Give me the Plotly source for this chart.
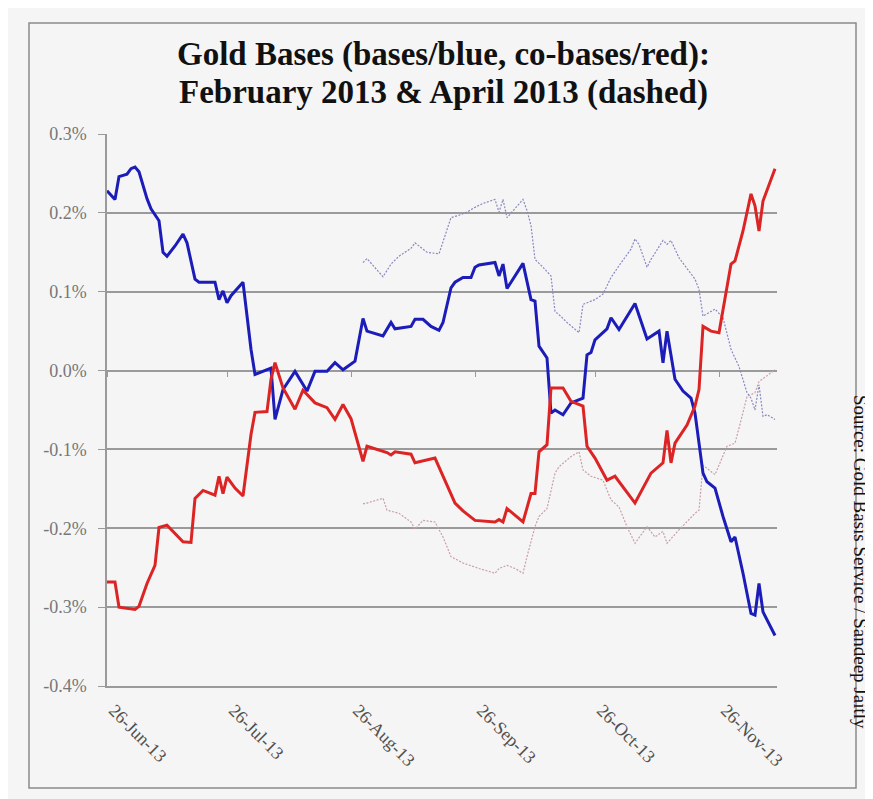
import plotly.graph_objects as go

# ---------------- data ----------------
blue_dates = ["2013-06-26","2013-06-28","2013-06-29","2013-07-01","2013-07-02","2013-07-03","2013-07-04","2013-07-06","2013-07-07","2013-07-09",
              "2013-07-10","2013-07-11","2013-07-13","2013-07-15","2013-07-16","2013-07-18","2013-07-19","2013-07-23","2013-07-24","2013-07-25",
              "2013-07-26","2013-07-27","2013-07-30","2013-08-01","2013-08-02","2013-08-06","2013-08-07","2013-08-09","2013-08-12","2013-08-15",
              "2013-08-17","2013-08-20","2013-08-22","2013-08-24","2013-08-27","2013-08-29","2013-08-30","2013-09-03","2013-09-05","2013-09-06",
              "2013-09-10","2013-09-11","2013-09-13","2013-09-15","2013-09-17","2013-09-18","2013-09-20","2013-09-21","2013-09-23","2013-09-25",
              "2013-09-26","2013-09-27","2013-10-01","2013-10-02","2013-10-03","2013-10-04","2013-10-08","2013-10-10","2013-10-11","2013-10-12",
              "2013-10-14","2013-10-15","2013-10-16","2013-10-18","2013-10-20","2013-10-23","2013-10-24","2013-10-25","2013-10-26","2013-10-29",
              "2013-10-30","2013-11-01","2013-11-05","2013-11-08","2013-11-11","2013-11-12","2013-11-13","2013-11-14","2013-11-15","2013-11-17",
              "2013-11-19","2013-11-20","2013-11-22","2013-11-23","2013-11-25","2013-11-27","2013-11-29","2013-11-30","2013-12-02","2013-12-04",
              "2013-12-05","2013-12-06","2013-12-07","2013-12-10"]
blue_vals = [0.228,0.217,0.246,0.249,0.256,0.258,0.252,0.218,0.205,0.190,
             0.150,0.145,0.158,0.173,0.162,0.116,0.112,0.112,0.090,0.101,
             0.086,0.095,0.112,0.027,-0.005,0.003,-0.062,-0.024,-0.001,-0.026,
             -0.001,-0.001,0.010,0.001,0.012,0.066,0.050,0.044,0.061,0.053,
             0.056,0.065,0.065,0.056,0.051,0.061,0.105,0.112,0.118,0.118,
             0.131,0.134,0.137,0.120,0.135,0.104,0.136,0.090,0.088,0.031,
             0.016,-0.054,-0.050,-0.056,-0.041,-0.035,0.020,0.023,0.039,0.053,
             0.067,0.052,0.085,0.040,0.050,0.010,0.050,0.018,-0.011,-0.026,
             -0.035,-0.054,-0.130,-0.141,-0.149,-0.185,-0.217,-0.211,-0.257,-0.308,
             -0.310,-0.270,-0.306,-0.336]

red_dates = ["2013-06-26","2013-06-28","2013-06-29","2013-07-03","2013-07-04","2013-07-06","2013-07-08","2013-07-09","2013-07-11","2013-07-13",
             "2013-07-15","2013-07-17","2013-07-18","2013-07-20","2013-07-23","2013-07-24","2013-07-25","2013-07-26","2013-07-28","2013-07-30",
             "2013-08-01","2013-08-02","2013-08-05","2013-08-06","2013-08-07","2013-08-09","2013-08-12","2013-08-14","2013-08-17","2013-08-20",
             "2013-08-22","2013-08-24","2013-08-26","2013-08-29","2013-08-30","2013-09-04","2013-09-05","2013-09-06","2013-09-10","2013-09-11",
             "2013-09-16","2013-09-21","2013-09-23","2013-09-26","2013-10-01","2013-10-02","2013-10-03","2013-10-04","2013-10-08","2013-10-10",
             "2013-10-11","2013-10-12","2013-10-14","2013-10-15","2013-10-18","2013-10-20","2013-10-23","2013-10-24","2013-10-26","2013-10-29",
             "2013-10-31","2013-11-05","2013-11-09","2013-11-12","2013-11-13","2013-11-14","2013-11-15","2013-11-18","2013-11-20","2013-11-21",
             "2013-11-22","2013-11-24","2013-11-26","2013-11-29","2013-11-30","2013-12-02","2013-12-04","2013-12-05","2013-12-06","2013-12-07",
             "2013-12-09","2013-12-10"]
red_vals = [-0.268,-0.268,-0.300,-0.303,-0.299,-0.270,-0.247,-0.199,-0.196,-0.206,
            -0.217,-0.218,-0.162,-0.152,-0.158,-0.134,-0.156,-0.135,-0.149,-0.159,
            -0.081,-0.053,-0.052,-0.011,0.010,-0.022,-0.049,-0.025,-0.041,-0.047,
            -0.062,-0.043,-0.061,-0.115,-0.096,-0.104,-0.107,-0.103,-0.106,-0.117,
            -0.111,-0.168,-0.178,-0.190,-0.192,-0.189,-0.192,-0.175,-0.192,-0.156,
            -0.156,-0.103,-0.094,-0.022,-0.022,-0.039,-0.045,-0.096,-0.111,-0.139,
            -0.134,-0.168,-0.130,-0.117,-0.076,-0.117,-0.092,-0.069,-0.045,-0.024,
            0.056,0.050,0.048,0.135,0.139,0.177,0.224,0.209,0.177,0.215,
            0.243,0.256]

blue_dash_dates = ["2013-08-29","2013-08-30","2013-09-03","2013-09-05","2013-09-07","2013-09-10","2013-09-11","2013-09-14","2013-09-17","2013-09-20",
                   "2013-09-22","2013-09-24","2013-09-26","2013-09-28","2013-10-01","2013-10-02","2013-10-03","2013-10-04","2013-10-08","2013-10-09",
                   "2013-10-10","2013-10-11","2013-10-13","2013-10-15","2013-10-16","2013-10-17","2013-10-19","2013-10-22","2013-10-23","2013-10-26",
                   "2013-10-28","2013-10-30","2013-11-01","2013-11-04","2013-11-05","2013-11-06","2013-11-08","2013-11-09","2013-11-12","2013-11-13",
                   "2013-11-14","2013-11-16","2013-11-20","2013-11-21","2013-11-22","2013-11-25","2013-11-27","2013-11-29","2013-12-01","2013-12-03",
                   "2013-12-04","2013-12-05","2013-12-06","2013-12-07","2013-12-08","2013-12-10"]
blue_dash_vals = [0.137,0.142,0.119,0.135,0.145,0.155,0.162,0.150,0.148,0.194,
                  0.197,0.201,0.207,0.212,0.217,0.201,0.217,0.194,0.217,0.203,
                  0.184,0.141,0.131,0.120,0.075,0.071,0.061,0.048,0.084,0.090,
                  0.097,0.118,0.133,0.154,0.167,0.160,0.131,0.141,0.165,0.160,
                  0.165,0.143,0.116,0.103,0.069,0.078,0.067,0.027,0.005,-0.028,
                  -0.035,-0.050,-0.018,-0.058,-0.056,-0.062]

red_dash_dates = ["2013-08-29","2013-08-30","2013-09-03","2013-09-04","2013-09-07","2013-09-10","2013-09-11","2013-09-13","2013-09-16","2013-09-18",
                  "2013-09-20","2013-09-23","2013-09-27","2013-10-01","2013-10-02","2013-10-04","2013-10-06","2013-10-08","2013-10-09","2013-10-11",
                  "2013-10-12","2013-10-14","2013-10-16","2013-10-17","2013-10-20","2013-10-22","2013-10-23","2013-10-25","2013-10-28","2013-10-30",
                  "2013-11-01","2013-11-03","2013-11-05","2013-11-08","2013-11-10","2013-11-12","2013-11-13","2013-11-16","2013-11-20","2013-11-21",
                  "2013-11-22","2013-11-25","2013-11-28","2013-11-30","2013-12-01","2013-12-03","2013-12-05","2013-12-06","2013-12-10"]
red_dash_vals = [-0.169,-0.168,-0.162,-0.177,-0.181,-0.192,-0.201,-0.190,-0.192,-0.211,
                 -0.236,-0.244,-0.251,-0.257,-0.251,-0.247,-0.251,-0.257,-0.236,-0.198,
                 -0.185,-0.175,-0.130,-0.122,-0.109,-0.103,-0.126,-0.134,-0.139,-0.164,
                 -0.173,-0.198,-0.219,-0.198,-0.211,-0.204,-0.219,-0.202,-0.181,-0.177,
                 -0.120,-0.132,-0.096,-0.092,-0.073,-0.033,-0.028,-0.014,0.001]

x_tick_dates = ["2013-06-26","2013-07-26","2013-08-26","2013-09-26","2013-10-26","2013-11-26"]
x_tick_labels = ["26-Jun-13","26-Jul-13","26-Aug-13","26-Sep-13","26-Oct-13","26-Nov-13"]
y_tick_vals = [-0.4,-0.3,-0.2,-0.1,0.0,0.1,0.2,0.3]
y_tick_labels = ["-0.4%","-0.3%","-0.2%","-0.1%","0.0%","0.1%","0.2%","0.3%"]

title_line1 = "Gold Bases (bases/blue, co-bases/red):"
title_line2 = "February 2013 & April 2013 (dashed)"
source_text = "Source: Gold Basis Service / Sandeep Jaitly"

# ---------------- figure ----------------
OFF = 8                       # page body margin
W, H = 873 - OFF, 799 - OFF
L, R, T, B = 107 - OFF, 96, 134 - OFF, 113
PW, PH = W - L - R, H - T - B

def px(xs):                   # screen x -> paper x
    return (xs - OFF - L) / PW

def py(ys):                   # screen y -> paper y
    return (H - B - (ys - OFF)) / PH

SERIF = "Liberation Serif"
GRID = "#9a9a9a"
BG = "#f5f5f5"

fig = go.Figure()
fig.add_trace(go.Scatter(x=blue_dash_dates, y=blue_dash_vals, mode="lines",
                         line=dict(color="#8888c2", width=1.2, dash="2px,1.5px"), showlegend=False, hoverinfo="skip"))
fig.add_trace(go.Scatter(x=red_dash_dates, y=red_dash_vals, mode="lines",
                         line=dict(color="#c89ea8", width=1.2, dash="2px,1.5px"), showlegend=False, hoverinfo="skip"))
fig.add_trace(go.Scatter(x=blue_dates, y=blue_vals, mode="lines",
                         line=dict(color="#1c1cb8", width=3), showlegend=False, hoverinfo="skip"))
fig.add_trace(go.Scatter(x=red_dates, y=red_vals, mode="lines",
                         line=dict(color="#dc2424", width=3), showlegend=False, hoverinfo="skip"))
# empty trace carrying the secondary axis used for the month tick marks at 0%
fig.add_trace(go.Scatter(x=[], y=[], xaxis="x2", showlegend=False, hoverinfo="skip"))

x_range = ["2013-06-26", "2013-12-10 12:00"]

fig.update_layout(
    width=W, height=H, autosize=False,
    margin=dict(l=L, r=R, t=T, b=B, pad=0),
    paper_bgcolor=BG, plot_bgcolor=BG,
    showlegend=False,
    xaxis=dict(type="date", range=x_range, tickvals=x_tick_dates, ticktext=x_tick_labels,
               tickangle=45, showgrid=False, zeroline=False, showline=True, linecolor=GRID, linewidth=1.5,
               ticks="", tickfont=dict(family=SERIF, size=18, color="#505050"),
               ticklabelstandoff=5, ticklabelshift=7),
    xaxis2=dict(type="date", range=x_range, overlaying="x", anchor="free", position=py(371), side="bottom",
                tickvals=x_tick_dates, ticks="outside", ticklen=5, tickcolor=GRID, tickwidth=1,
                showticklabels=False, showgrid=False, zeroline=False, showline=False),
    yaxis=dict(range=[-0.4, 0.3], tickvals=y_tick_vals, ticktext=y_tick_labels,
               showgrid=True, gridcolor=GRID, gridwidth=1.5, zeroline=False,
               showline=True, linecolor=GRID, linewidth=1.5, ticks="outside", ticklen=7, tickcolor=GRID,
               tickfont=dict(family=SERIF, size=18, color="#777777"), ticklabelstandoff=8),
    shapes=[dict(type="rect", xref="paper", yref="paper", x0=px(29), x1=px(856), y0=py(788), y1=py(23),
                 line=dict(color="#8a8a8a", width=1.5), fillcolor="rgba(0,0,0,0)", layer="below")],
    annotations=[
        dict(text=title_line1, xref="paper", yref="paper", x=px(443), y=py(54), xanchor="center", yanchor="middle",
             showarrow=False, font=dict(family=SERIF, size=33, color="#111111", weight="bold")),
        dict(text=title_line2, xref="paper", yref="paper", x=px(443), y=py(92), xanchor="center", yanchor="middle",
             showarrow=False, font=dict(family=SERIF, size=33, color="#111111", weight="bold")),
        dict(text=source_text, xref="paper", yref="paper", x=px(861), y=py(562), xanchor="center", yanchor="middle",
             textangle=90, showarrow=False, font=dict(family=SERIF, size=19, color="#111111")),
    ],
)

fig.write_html("out.html")
